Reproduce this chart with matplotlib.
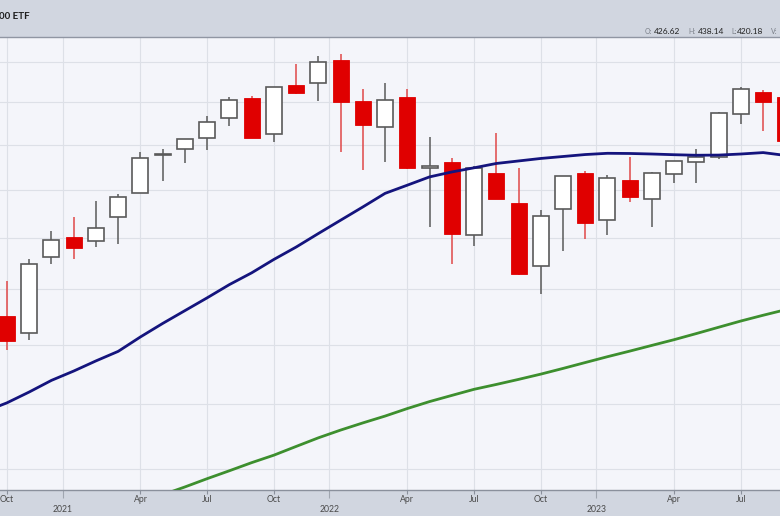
import matplotlib
matplotlib.use("Agg")
import matplotlib.pyplot as plt
import pandas as pd
from matplotlib.ticker import FixedLocator, NullLocator, NullFormatter

# ---------------- data (monthly candles, Oct 2020 .. Sep 2023) ----------------
months = [str(p) for p in pd.period_range("2020-10", "2023-09", freq="M")]
opens = [337.69, 330.20, 365.57, 375.31, 373.72, 385.59, 398.40, 419.43, 422.57, 428.87,
         440.34, 452.56, 430.98, 460.30, 461.64, 476.30, 450.68, 435.04, 453.31, 412.07,
         415.17, 376.56, 409.15, 392.89, 361.08, 390.14, 409.15, 384.37, 405.21, 395.41,
         408.85, 415.47, 418.09, 442.92, 456.27, 453.17]
highs = [354.02, 364.38, 378.46, 385.85, 394.17, 398.12, 420.72, 422.82, 428.56, 441.80,
         453.07, 454.05, 459.56, 473.54, 479.00, 479.98, 458.12, 462.07, 457.83, 429.66,
         417.44, 413.03, 431.73, 411.73, 389.52, 407.68, 410.49, 408.16, 418.31, 409.70,
         415.94, 422.58, 444.30, 459.44, 457.25, 453.67]
lows = [322.60, 327.24, 362.03, 364.82, 370.38, 371.88, 398.18, 404.70, 414.70, 421.97,
        436.10, 428.78, 426.36, 455.00, 450.70, 420.76, 410.64, 415.12, 411.21, 380.54,
        362.17, 371.04, 395.04, 357.04, 348.11, 368.79, 374.77, 376.76, 393.64, 380.65,
        403.78, 403.74, 416.79, 437.06, 433.01, 425.01]
closes = [326.54, 362.06, 373.88, 370.07, 380.36, 396.33, 417.30, 420.04, 428.06, 438.51,
          451.56, 429.14, 459.25, 455.56, 474.96, 449.91, 436.63, 451.64, 412.00, 412.93,
          377.25, 411.99, 395.18, 357.18, 386.21, 407.68, 382.43, 406.48, 396.26, 409.39,
          415.93, 417.85, 443.28, 457.79, 450.35, 427.48]

# moving averages
blue_months = [str(p) for p in pd.period_range("2020-09", "2023-09", freq="M")]
ma_blue = [297.1, 300.6, 305.0, 309.8, 313.7, 318.0, 322.1, 328.4, 334.4, 340.2,
           346.1, 352.3, 357.9, 364.4, 370.5, 377.3, 384.1, 391.0, 398.2, 402.6,
           407.1, 409.8, 412.1, 414.5, 415.9, 417.3, 418.4, 419.5, 420.2, 420.1,
           419.8, 419.4, 419.1, 419.2, 419.8, 420.6, 419.0]
green_months = [str(p) for p in pd.period_range("2021-05", "2023-09", freq="M")]
ma_green = [265.7, 268.5, 271.5, 274.4, 277.4, 280.2, 283.5, 286.8, 289.8, 292.6,
            295.3, 298.3, 301.1, 303.6, 306.1, 308.1, 310.2, 312.4, 314.8, 317.3,
            319.8, 322.2, 324.7, 327.2, 329.9, 332.7, 335.5, 338.1, 340.6]

header_title = "00 ETF"
header_labels = ["O:", "H:", "L:", "V:"]
header_values = ["426.62", "438.14", "420.18", ""]

grid_prices = [275, 300, 325, 350, 375, 400, 425, 450, 475]
quarter_ticks = ["2020-10", "2021-04", "2021-07", "2021-10", "2022-04", "2022-07",
                 "2022-10", "2023-04", "2023-07"]
quarter_labels = ["Oct", "Apr", "Jul", "Oct", "Apr", "Jul", "Oct", "Apr", "Jul"]
year_labels = ["2021", "2022", "2023"]

# ---------------- helpers ----------------
base = pd.Period("2020-10", freq="M")


def mx(m):
    return (pd.Period(m, freq="M") - base).n


# ---------------- figure ----------------
W, H = 780, 516
fig = plt.figure(figsize=(W / 100, H / 100), dpi=100)
fig.patch.set_facecolor("#d1d6e0")
ax = fig.add_axes([0, 26 / H, 1, 453 / H])
ax.set_facecolor("#f4f5fa")
ax.set_yscale("log")

RED = "#e00000"
EDGE = "#5a5a5a"
width = 0.72

xs = [mx(m) for m in months]
for x, o, h, l, c in zip(xs, opens, highs, lows, closes):
    up = c >= o
    ax.vlines(x, l, h, color=EDGE if up else "#e04848", lw=1.1, zorder=3)
    lo, hi = min(o, c), max(o, c)
    if up:
        ax.bar(x, hi - lo, width=width, bottom=lo, color="white", edgecolor=EDGE,
               linewidth=1.2, zorder=4)
    else:
        ax.bar(x, hi - lo, width=width, bottom=lo, color=RED, edgecolor=RED,
               linewidth=0.6, zorder=4)

ax.plot([mx(m) for m in blue_months], ma_blue, color="#14147d", lw=2.0, zorder=5,
        solid_capstyle="round")
ax.plot([mx(m) for m in green_months], ma_green, color="#3d8f2e", lw=2.0, zorder=5,
        solid_capstyle="round")

ax.set_xlim(-7 / 22.24, (780 - 7) / 22.24)
ax.set_ylim(267.4, 491.2)

# axes / grid
ax.yaxis.set_major_locator(FixedLocator(grid_prices))
ax.yaxis.set_minor_locator(NullLocator())
ax.yaxis.set_major_formatter(NullFormatter())
ax.yaxis.set_minor_formatter(NullFormatter())
ax.tick_params(axis="y", length=0)

qpos = [mx(m) for m in quarter_ticks]
ypos = [mx(f"{y}-01") - 0.5 for y in year_labels]
ax.xaxis.set_major_locator(FixedLocator(qpos))
ax.xaxis.set_minor_locator(FixedLocator(ypos))
ax.xaxis.set_major_formatter(NullFormatter())
ax.xaxis.set_minor_formatter(NullFormatter())
ax.tick_params(axis="x", which="major", length=3, color="#8a909c", width=0.8)
ax.tick_params(axis="x", which="minor", length=6, color="#a0a6b0", width=0.8)

ax.grid(True, which="major", axis="both", color="#dde0e7", lw=0.8, zorder=0)
ax.grid(True, which="minor", axis="x", color="#dde0e7", lw=0.8, zorder=0)
ax.set_axisbelow(True)

for s in ["left", "right"]:
    ax.spines[s].set_visible(False)
ax.spines["top"].set_color("#9096a3")
ax.spines["top"].set_linewidth(1.0)
ax.spines["bottom"].set_color("#8a909c")
ax.spines["bottom"].set_linewidth(1.0)

xt = ax.get_xaxis_transform()
for p, lab in zip(qpos, quarter_labels):
    ax.text(p, -9 / 453, lab, transform=xt, ha="center", va="center",
            fontsize=6.2, color="#4a4a4a", family="Lato", clip_on=False)
for p, lab in zip(ypos, year_labels):
    ax.text(p, -19 / 453, lab, transform=xt, ha="center", va="center",
            fontsize=6.2, color="#4a4a4a", family="Lato", clip_on=False)

# header texts
fig.text(-1 / W, 1 - 16.5 / H, header_title, ha="left", va="center", fontsize=7,
         fontweight="bold", color="#1e1e1e", family="Lato")
lab_x = [645, 688, 731, 771]
val_x = [654, 698, 737, 780]
for lx, vx, lab, val in zip(lab_x, val_x, header_labels, header_values):
    fig.text(lx / W, 1 - 31 / H, lab, ha="left", va="center", fontsize=5,
             color="#7a7f88", family="Lato")
    if val:
        fig.text(vx / W, 1 - 31 / H, val, ha="left", va="center", fontsize=6,
                 color="#222222", family="Lato")

fig.savefig("out.png", dpi=100, facecolor=fig.get_facecolor())
